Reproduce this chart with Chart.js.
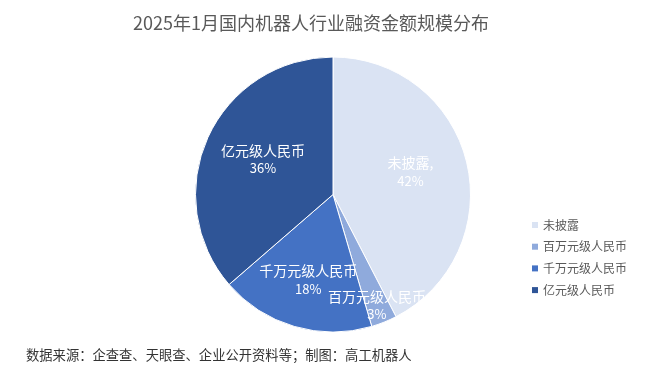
<!DOCTYPE html>
<html lang="zh">
  <head>
    <meta charset="UTF-8" />
    <title>融资金额规模分布</title>
    <script src="https://cdn.jsdelivr.net/npm/chart.js"></script>
    <style>
      body { margin: 0; background: #ffffff; }
      #box { width: 661px; height: 373px; }
    </style>
  </head>
  <body>
    <div id="box"><canvas id="grafico" width="661" height="373"></canvas></div>

<script>
  // dados
  const categorias = ["未披露", "百万元级人民币", "千万元级人民币", "亿元级人民币"];
  const quantidades = [14, 1, 6, 12];
  const rotulosPct = ["42%", "3%", "18%", "36%"];

  const cores = ["#DAE3F3", "#8FAADC", "#4472C4", "#2F5597"];
  // posicao dos rotulos (fracao do raio, deslocamento vertical)
  const raioRotulo = [0.58, 0.86, 0.64, 0.56];
  const ajusteY = [-5, 0, 0, -4];
  const fonte = '"Noto Sans CJK SC", "Noto Sans", sans-serif';

  const textosPlugin = {
    id: "textos",
    afterDatasetsDraw(chart) {
      const ctx = chart.ctx;
      const meta = chart.getDatasetMeta(0);
      ctx.save();
      ctx.textAlign = "center";
      ctx.textBaseline = "middle";
      ctx.fillStyle = "#ffffff";
      meta.data.forEach(function (arc, i) {
        const p = arc.getProps(["x", "y", "startAngle", "endAngle", "outerRadius"], true);
        const meio = (p.startAngle + p.endAngle) / 2;
        const r = p.outerRadius * raioRotulo[i];
        const x = p.x + Math.cos(meio) * r;
        const y = p.y + Math.sin(meio) * r + ajusteY[i];
        ctx.font = "14px " + fonte;
        const nome = i == 0 ? categorias[i] + "," : categorias[i];
        ctx.fillText(nome, x, y - 8);
        ctx.font = "13px " + fonte;
        ctx.fillText(rotulosPct[i], x, y + 10);
      });
      ctx.restore();
    },
    afterDraw(chart) {
      const ctx = chart.ctx;
      ctx.save();
      // titulo
      ctx.textAlign = "center";
      ctx.textBaseline = "middle";
      ctx.fillStyle = "#595959";
      ctx.font = "18px " + fonte;
      ctx.fillText("2025年1月国内机器人行业融资金额规模分布", 311, 23);

      // legenda
      ctx.textAlign = "left";
      ctx.font = "12px " + fonte;
      for (let i = 0; i < categorias.length; i++) {
        const y = 225 + i * 21.7;
        ctx.fillStyle = cores[i];
        ctx.fillRect(532, y - 3, 6, 6);
        ctx.fillStyle = "#595959";
        ctx.fillText(categorias[i], 543, y);
      }

      // fonte dos dados
      ctx.fillStyle = "#333333";
      ctx.font = "13.3px " + fonte;
      ctx.fillText("数据来源：企查查、天眼查、企业公开资料等；制图：高工机器人", 26, 355);
      ctx.restore();
    },
  };

  const grafico = new Chart(document.getElementById("grafico"), {
    type: "pie",
    data: {
      labels: categorias,
      datasets: [
        {
          data: quantidades,
          backgroundColor: cores,
          borderColor: "#ffffff",
          borderWidth: 1,
        },
      ],
    },
    options: {
      responsive: false,
      animation: false,
      layout: {
        padding: { left: 195, right: 190, top: 56, bottom: 40 },
      },
      plugins: {
        legend: { display: false },
        title: { display: false },
        tooltip: { enabled: false },
      },
    },
    plugins: [textosPlugin],
  });
</script>
  </body>
</html>
